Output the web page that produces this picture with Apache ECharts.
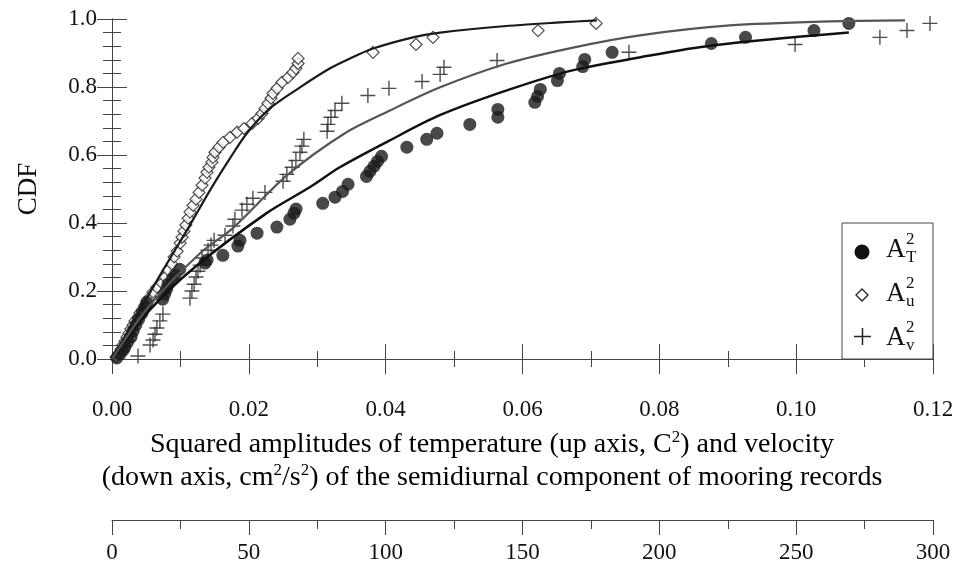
<!DOCTYPE html>
<html><head><meta charset="utf-8">
<script src="https://cdn.jsdelivr.net/npm/echarts@6/dist/echarts.min.js"></script>
<style>html,body{margin:0;padding:0;background:#fff}#c{width:958px;height:578px}</style>
</head><body><div id="c"></div>
<script>
// ---- axis ticks ----
const tempTicks = [0, 0.02, 0.04, 0.06, 0.08, 0.10, 0.12];
const velTicks = [0, 50, 100, 150, 200, 250, 300];
const cdfTicks = [0, 0.2, 0.4, 0.6, 0.8, 1.0];

// ---- A_T^2 (temperature, C^2) : [amplitude, CDF] ----
const aT = [[0.0007,0.003],[0.0012,0.015],[0.0016,0.026],[0.0019,0.035],[0.0023,0.050],[0.0028,0.065],
[0.0031,0.082],[0.0035,0.100],[0.0039,0.117],[0.0044,0.135],[0.0048,0.153],[0.0051,0.167],[0.0074,0.176],
[0.0077,0.191],[0.0080,0.206],[0.0082,0.220],[0.0088,0.235],[0.0092,0.247],[0.0099,0.264],[0.0136,0.282],
[0.0139,0.291],[0.0162,0.305],[0.0184,0.332],[0.0187,0.349],[0.0212,0.370],[0.0241,0.388],[0.0260,0.411],
[0.0266,0.429],[0.0269,0.441],[0.0308,0.458],[0.0326,0.476],[0.0337,0.493],[0.0345,0.514],[0.0372,0.537],
[0.0377,0.552],[0.0383,0.567],[0.0388,0.581],[0.0394,0.596],[0.0431,0.623],[0.0460,0.646],[0.0475,0.664],
[0.0523,0.690],[0.0564,0.711],[0.0564,0.734],[0.0618,0.755],[0.0622,0.772],[0.0626,0.793],[0.0651,0.819],
[0.0654,0.840],[0.0688,0.860],[0.0691,0.881],[0.0731,0.902],[0.0876,0.928],[0.0926,0.946],[0.1026,0.966],
[0.1077,0.987]];

// ---- A_u^2 (velocity, cm^2/s^2) ----
const aU = [[1.5,0.006],[2.6,0.018],[3.3,0.029],[4.0,0.041],[4.8,0.053],[5.5,0.065],[6.2,0.076],[6.9,0.088],
[7.7,0.100],[8.4,0.112],[9.5,0.123],[10.2,0.135],[11.0,0.144],[12.1,0.156],[12.8,0.167],[13.9,0.182],
[15.0,0.197],[16.4,0.211],[18.3,0.223],[19.4,0.241],[20.5,0.261],[21.9,0.279],[22.7,0.300],[23.8,0.317],
[24.9,0.341],[25.6,0.358],[26.3,0.376],[27.0,0.394],[27.8,0.414],[28.5,0.432],[29.6,0.452],[30.7,0.470],
[31.8,0.490],[32.9,0.511],[34.0,0.532],[34.7,0.549],[35.4,0.564],[36.5,0.579],[36.9,0.593],[37.6,0.608],
[39.1,0.623],[40.6,0.637],[43.1,0.652],[45.7,0.667],[48.2,0.678],[51.2,0.693],[53.4,0.708],[54.8,0.722],
[55.9,0.737],[57.0,0.752],[58.1,0.767],[58.8,0.781],[60.3,0.796],[62.1,0.814],[64.3,0.828],[66.1,0.843],
[67.2,0.855],[68.0,0.869],[68.0,0.884],[95.4,0.902],[111.1,0.925],[117.3,0.946],[155.7,0.966],[176.9,0.987]];

// ---- A_v^2 (velocity, cm^2/s^2) ----
const aV = [[9.5,0.009],[13.9,0.041],[15.0,0.056],[15.7,0.073],[16.4,0.091],[17.5,0.112],[18.6,0.132],
[28.5,0.179],[29.2,0.200],[30.0,0.220],[30.7,0.241],[31.4,0.258],[32.2,0.276],[32.9,0.297],[35.1,0.320],
[36.2,0.335],[37.3,0.349],[41.3,0.364],[44.2,0.391],[44.9,0.411],[47.5,0.438],[49.3,0.455],[51.5,0.473],
[55.9,0.490],[62.5,0.523],[63.9,0.543],[65.8,0.564],[67.2,0.584],[68.7,0.608],[69.4,0.626],[70.1,0.646],
[78.6,0.670],[78.9,0.690],[80.0,0.711],[81.5,0.731],[84.0,0.752],[93.5,0.775],[101.2,0.796],[113.3,0.816],
[119.9,0.837],[121.3,0.858],[140.7,0.878],[188.9,0.902],[249.6,0.925],[280.6,0.946],[290.5,0.966],[298.9,0.987]];

// ---- fitted CDF curves ----
const fitT = [[0,0],[0.0055,0.144],[0.0121,0.270],[0.0226,0.429],[0.0289,0.505],[0.0333,0.564],[0.0406,0.643],
[0.0479,0.717],[0.0577,0.790],[0.0673,0.849],[0.0771,0.887],[0.0877,0.922],[0.1077,0.960]];
const fitU = [[0,0],[10.2,0.144],[18.6,0.261],[27.4,0.379],[35.8,0.496],[43.1,0.590],[49.3,0.664],[57.7,0.737],
[68.7,0.799],[79.7,0.855],[87.0,0.884],[95.4,0.913],[110.0,0.946],[119.9,0.960],[141.8,0.978],[163.7,0.990],[177.2,0.996]];
const fitV = [[0,0],[13.9,0.159],[32.2,0.311],[44.2,0.385],[63.9,0.540],[85.1,0.664],[101.6,0.731],[119.9,0.799],
[144.3,0.869],[168.5,0.916],[192.9,0.952],[225.8,0.981],[262.4,0.993],[289.8,0.996]];

const FONT = 'Liberation Serif';
const AX = '#444';
const chart = echarts.init(document.getElementById('c'), null, {renderer: 'canvas'});

function tickAxisBase() {
  return {
    axisLine: {show: true, lineStyle: {color: AX, width: 1}},
    axisTick: {show: true, length: 15, lineStyle: {color: AX, width: 1}},
    splitLine: {show: false},
    minorSplitLine: {show: false}
  };
}

const xT = Object.assign(tickAxisBase(), {
  gridIndex: 0, type: 'value', position: 'bottom', min: tempTicks[0], max: tempTicks[tempTicks.length-1],
  interval: tempTicks[1]-tempTicks[0],
  minorTick: {show: true, splitNumber: 2, length: 8, lineStyle: {color: AX}},
  axisLabel: {margin: 39, fontFamily: FONT, fontSize: 23, color: '#111', formatter: v => v.toFixed(2)}
});
const xTtop = Object.assign(tickAxisBase(), {
  gridIndex: 0, type: 'value', position: 'top', min: tempTicks[0], max: tempTicks[tempTicks.length-1],
  interval: tempTicks[1]-tempTicks[0],
  minorTick: {show: true, splitNumber: 2, length: 8, lineStyle: {color: AX}},
  axisLabel: {show: false}
});
const xVhidden = {gridIndex: 0, type: 'value', show: false, min: velTicks[0], max: velTicks[velTicks.length-1]};
const xVel = Object.assign(tickAxisBase(), {
  gridIndex: 1, type: 'value', position: 'bottom', min: velTicks[0], max: velTicks[velTicks.length-1],
  interval: velTicks[1]-velTicks[0],
  minorTick: {show: true, splitNumber: 2, length: 9, lineStyle: {color: AX}},
  axisLabel: {margin: 21, fontFamily: FONT, fontSize: 23, color: '#111', formatter: v => String(v)}
});
const yL = Object.assign(tickAxisBase(), {
  gridIndex: 0, type: 'value', position: 'left', min: cdfTicks[0], max: cdfTicks[cdfTicks.length-1],
  interval: cdfTicks[1]-cdfTicks[0],
  minorTick: {show: true, splitNumber: 5, length: 9, lineStyle: {color: AX}},
  axisLabel: {margin: 15, fontFamily: FONT, fontSize: 23, color: '#111', formatter: v => v.toFixed(1)},
  name: 'CDF', nameLocation: 'middle', nameGap: 70,
  nameTextStyle: {fontFamily: FONT, fontSize: 27, color: '#111'}
});
const yR = Object.assign(tickAxisBase(), {
  gridIndex: 0, type: 'value', position: 'right', min: cdfTicks[0], max: cdfTicks[cdfTicks.length-1],
  interval: cdfTicks[1]-cdfTicks[0],
  minorTick: {show: true, splitNumber: 5, length: 9, lineStyle: {color: AX}},
  axisLabel: {show: false}
});
const yHidden = {gridIndex: 1, type: 'value', show: false, min: 0, max: 1};

const plusPath = 'path://M5,0 L5,10 M0,5 L10,5';

const rich = {
  n: {fontFamily: FONT, fontSize: 28, color: '#111'},
  s: {fontFamily: FONT, fontSize: 17, color: '#111', padding: [0, 0, 14, 0]}
};

function legendText(y, sub) {
  return [
    {type: 'text', z: 102, x: 886, y: y, style: {text: 'A', fontFamily: FONT, fontSize: 27, fill: '#111', verticalAlign: 'middle'}},
    {type: 'text', z: 102, x: 906, y: y - 10, style: {text: '2', fontFamily: FONT, fontSize: 17, fill: '#111', verticalAlign: 'middle'}},
    {type: 'text', z: 102, x: 906, y: y + 8, style: {text: sub, fontFamily: FONT, fontSize: 17, fill: '#111', verticalAlign: 'middle'}}
  ];
}

const option = {
  backgroundColor: '#fff',
  animation: false,
  grid: [
    {left: 112, top: 19, width: 821, height: 340},
    {left: 112, top: 519, width: 821, height: 1}
  ],
  xAxis: [xT, xTtop, xVhidden, xVel],
  yAxis: [yL, yR, yHidden],
  series: [
    {name: 'AT', type: 'scatter', xAxisIndex: 0, yAxisIndex: 0, data: aT, symbol: 'circle', symbolSize: 13,
     itemStyle: {color: '#1a1a1a'}, z: 3},
    {name: 'Au', type: 'scatter', xAxisIndex: 2, yAxisIndex: 0, data: aU, symbol: 'diamond', symbolSize: 12,
     itemStyle: {color: '#fff', borderColor: '#222', borderWidth: 1.2}, z: 2},
    {name: 'Av', type: 'scatter', xAxisIndex: 2, yAxisIndex: 0, data: aV, symbol: plusPath, symbolSize: 15,
     itemStyle: {color: 'none', borderColor: '#222', borderWidth: 1.4}, z: 2},
    {name: 'fitT', type: 'line', xAxisIndex: 0, yAxisIndex: 0, data: fitT, showSymbol: false, smooth: 0.3,
     lineStyle: {color: '#111', width: 2.5}, z: 4},
    {name: 'fitU', type: 'line', xAxisIndex: 2, yAxisIndex: 0, data: fitU, showSymbol: false, smooth: 0.3,
     lineStyle: {color: '#1a1a1a', width: 2.2}, z: 4},
    {name: 'fitV', type: 'line', xAxisIndex: 2, yAxisIndex: 0, data: fitV, showSymbol: false, smooth: 0.3,
     lineStyle: {color: '#555', width: 2.2}, z: 4}
  ],
  graphic: [
    {type: 'text', x: 492, y: 445, z: 50, style: {
      text: '{n|Squared amplitudes of temperature (up axis, C}{s|2}{n|) and velocity}',
      rich: rich, align: 'center', verticalAlign: 'middle'}},
    {type: 'text', x: 492, y: 478, z: 50, style: {
      text: '{n|(down axis, cm}{s|2}{n|/s}{s|2}{n|) of the semidiurnal component of mooring records}',
      rich: rich, align: 'center', verticalAlign: 'middle'}},
    {type: 'rect', z: 100, shape: {x: 842, y: 223, width: 91, height: 136},
     style: {fill: '#fff', stroke: AX, lineWidth: 1}},
    {type: 'circle', z: 102, shape: {cx: 862, cy: 252, r: 7.5}, style: {fill: '#111'}},
    {type: 'polygon', z: 102, shape: {points: [[862, 289], [868, 295], [862, 301], [856, 295]]},
      style: {fill: '#fff', stroke: '#222', lineWidth: 1.3}},
    {type: 'line', z: 102, shape: {x1: 854, y1: 336.5, x2: 871, y2: 336.5}, style: {stroke: '#222', lineWidth: 1.5}},
    {type: 'line', z: 102, shape: {x1: 862.5, y1: 328, x2: 862.5, y2: 345}, style: {stroke: '#222', lineWidth: 1.5}}
  ].concat(legendText(250, 'T'), legendText(294, 'u'), legendText(338, 'v'))
};
chart.setOption(option);
</script>
</body></html>
